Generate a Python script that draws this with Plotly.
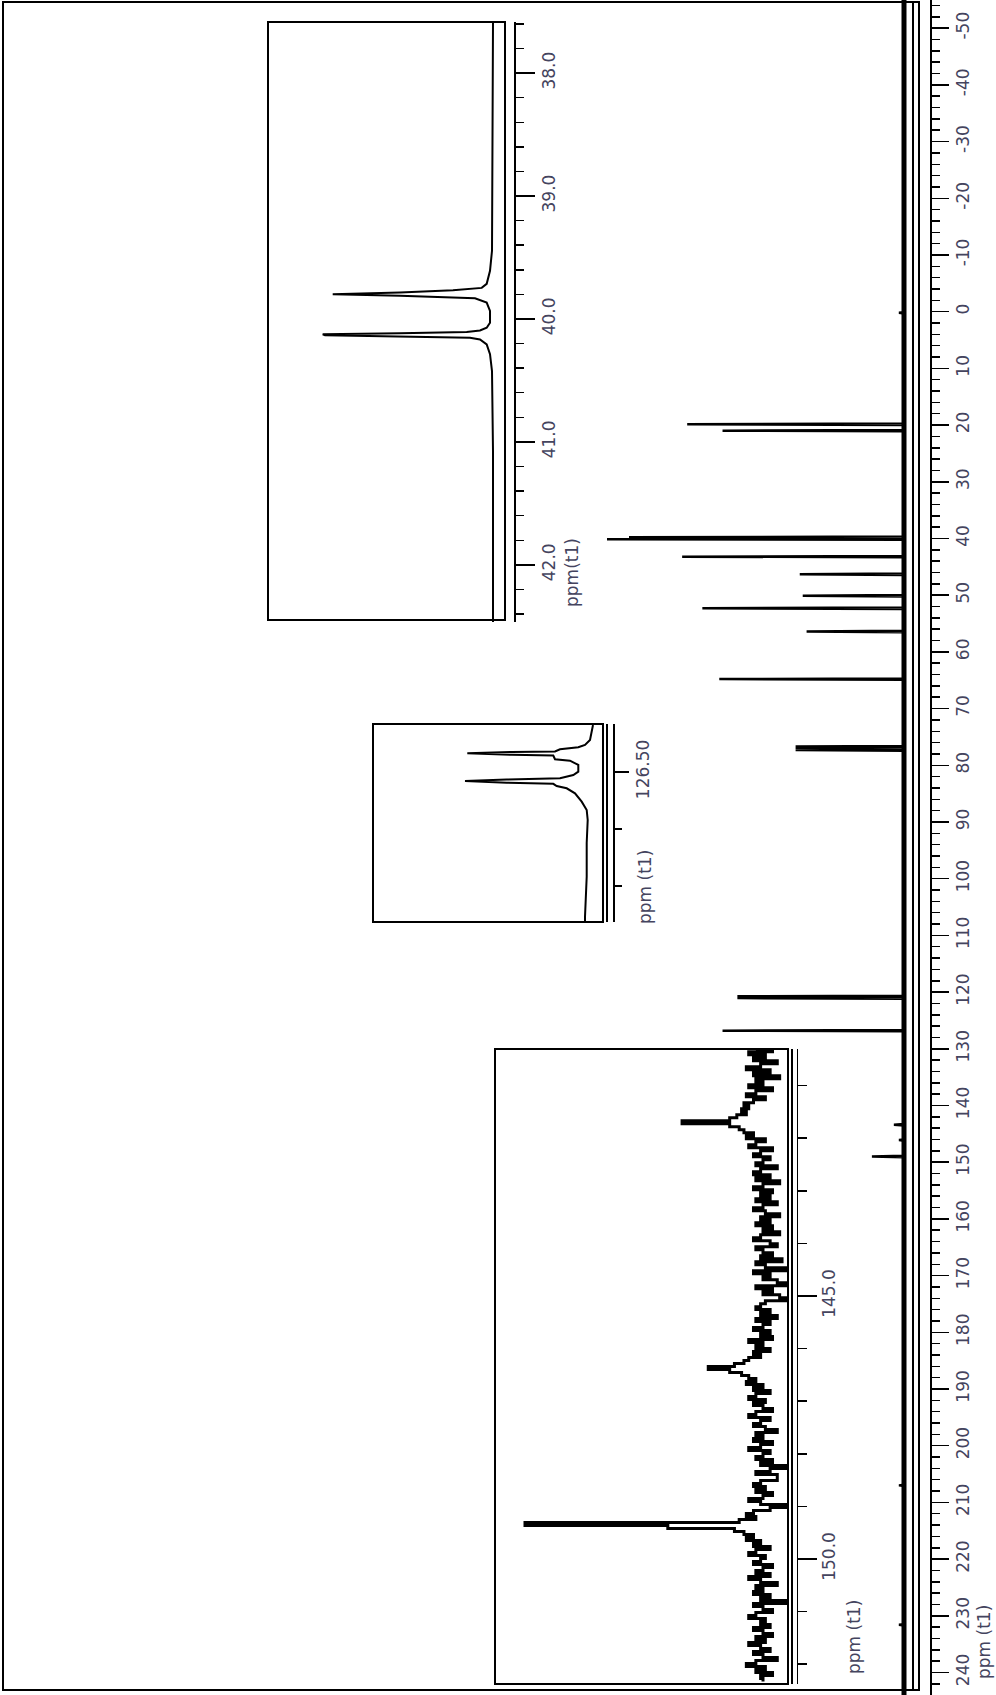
import plotly.graph_objects as go

W, H = 996, 1695


def fx(px):
    return px / W


def fy(py):
    return 1 - py / H


# ---------------- data ----------------
# main 13C spectrum: peak positions (ppm) and relative heights
main_ppm_range = [-54.97, 243.97]
main_peak_ppm = [0.2, 19.86, 20.98, 39.79, 40.12, 43.2, 46.3, 50.1, 52.3, 56.4, 64.8,
                 76.7, 77.0, 77.3, 120.75, 121.05, 126.8, 143.4, 146.1, 149.0, 207.0, 231.6]
main_peak_int = [1.7, 73.0, 61.1, 92.6, 100.0, 74.7, 35.1, 34.1, 67.9, 32.8, 62.2,
                 36.5, 36.5, 36.5, 56.1, 56.1, 61.1, 3.4, 1.7, 10.8, 1.7, 1.7]
main_tick_vals = [-50, -40, -30, -20, -10, 0, 10, 20, 30, 40, 50, 60, 70, 80, 90, 100,
                  110, 120, 130, 140, 150, 160, 170, 180, 190, 200, 210, 220, 230, 240]
main_tick_text = [str(v) for v in main_tick_vals]

# inset 1 (37.6 - 42.5 ppm)
inset1_ppm = [37.584, 39.445, 39.608, 39.714, 39.747, 39.766, 39.784, 39.793, 39.798, 39.811,
              39.823, 39.831, 39.867, 39.935, 40.030, 40.071, 40.094, 40.106, 40.117, 40.125,
              40.132, 40.140, 40.149, 40.153, 40.166, 40.207, 40.286, 40.424, 41.078, 42.465]
inset1_int = [0.0, 0.59, 1.76, 3.71, 6.65, 23.53, 54.71, 94.29, 94.29, 54.71,
              24.12, 10.59, 3.71, 1.76, 1.76, 3.71, 7.65, 15.47, 54.71, 100.18,
              98.82, 54.71, 17.65, 13.53, 7.65, 3.71, 1.76, 0.59, 0.0, 0.0]
inset1_range = [42.465, 37.584]
inset1_tick_vals = [38.0, 39.0, 40.0, 41.0, 42.0]
inset1_tick_text = ["38.0", "39.0", "40.0", "41.0", "42.0"]

# inset 2 (126.42 - 126.76 ppm)
inset2_ppm = [126.4175, 126.4321, 126.4439, 126.4526, 126.4567, 126.4602, 126.4640, 126.4649,
              126.4672, 126.4698, 126.4711, 126.4777, 126.4802, 126.4877, 126.4995, 126.5053,
              126.5111, 126.5132, 126.5158, 126.5189, 126.5207, 126.5246, 126.5286, 126.5374,
              126.5521, 126.5667, 126.5842, 126.6246, 126.6837, 126.7539, 126.7632]
inset2_int = [0.0, 1.02, 2.34, 6.25, 11.48, 25.78, 29.69, 63.52,
              98.20, 63.52, 31.02, 29.69, 17.97, 11.48, 11.48, 15.39,
              25.78, 67.42, 100.0, 67.42, 31.02, 28.36, 20.55, 14.06,
              8.83, 4.92, 4.14, 4.92, 4.92, 6.25, 6.25]
inset2_range = [126.7632, 126.4158]
inset2_tick_vals = [126.50]
inset2_tick_text = ["126.50"]

# inset 3 (140.3 - 152.4 ppm): noisy aromatic region, sampled every 0.057 ppm
inset3_start_ppm = 140.30
inset3_step_ppm = 0.057
inset3_int = [
    3, -4, 6, -1, 4, -6, 1, 7, -3, 4, -7, 3, 0, 6, -4, 3, 7, -1, 4, 8,
    6, 9, 7, 11, 14, 34, 14, 10, 8, 4, 7, -1, 3, 6, -4, 1, 4, -3, 0, 3,
    -6, 1, 4, -3, 3, -7, 0, 4, -4, 1, -3, 3, -6, 0, 4, -1, -7, 1, -3, 3,
    -4, 0, -7, 1, 4, -3, -6, 3, 0, -4, 1, -8, 3, -1, -11, 4, -3, 0, -6, -11,
    3, -4, 0, -7, -11, -1, 1, 3, -3, 1, -6, 3, -3, 0, 4, -3, 1, -4, 6, 0,
    3, -3, 4, 1, 6, 8, 12, 23, 14, 9, 6, 3, 7, 0, 4, -3, 3, 6, -1, 4,
    0, -4, 3, 6, -3, 1, 4, -1, -6, 3, 0, 4, -4, 1, 6, -3, 0, 3, -4, 1,
    -11, -3, 3, -6, -6, 1, 4, -1, 3, -4, 0, 6, 1, -11, -3, 4, 7, 3, 10, 100,
    40, 12, 8, 4, 7, 1, 4, -3, 3, 6, -1, 1, 4, -4, 0, 3, -3, 6, 1, -6,
    3, 0, 4, -3, 1, -11, 4, 0, -4, 3, 6, -1, 1, -3, 4, 0, -4, 3, -1, 6,
    1, -3, 4, 0, -6, 3, 7, -1, 3, -4, 1, 0,
]
inset3_range = [152.3764, 140.3042]
inset3_tick_vals = [145.0, 150.0]
inset3_tick_text = ["145.0", "150.0"]

# ---------------- build ----------------
LABEL_FONT = dict(family="DejaVu Sans", size=17, color="#44445e")

fig = go.Figure()

# main baseline
fig.add_trace(go.Scatter(x=[0, 0], y=main_ppm_range, mode="lines",
                         line=dict(color="black", width=5), xaxis="x", yaxis="y",
                         hoverinfo="skip", showlegend=False))
# main peaks as sticks
mx, my = [0], [main_ppm_range[0]]
for p, h in zip(main_peak_ppm, main_peak_int):
    mx += [0, h, 0]
    my += [p - 0.12, p, p + 0.12]
mx.append(0)
my.append(main_ppm_range[1])
fig.add_trace(go.Scatter(x=mx, y=my, mode="lines", line=dict(color="black", width=2.5),
                         xaxis="x", yaxis="y", hoverinfo="skip", showlegend=False))

fig.add_trace(go.Scatter(x=inset1_int, y=inset1_ppm, mode="lines",
                         line=dict(color="black", width=2), xaxis="x2", yaxis="y2",
                         hoverinfo="skip", showlegend=False))
fig.add_trace(go.Scatter(x=inset2_int, y=inset2_ppm, mode="lines",
                         line=dict(color="black", width=2), xaxis="x3", yaxis="y3",
                         hoverinfo="skip", showlegend=False))
inset3_ppm = [inset3_start_ppm + i * inset3_step_ppm for i in range(len(inset3_int))]
fig.add_trace(go.Scatter(x=inset3_int, y=inset3_ppm, mode="lines",
                         line=dict(color="black", width=3, shape="hv"), xaxis="x4", yaxis="y4",
                         hoverinfo="skip", showlegend=False))


def xax(x0, x1, rng, anchor):
    return dict(domain=[fx(x0), fx(x1)], range=rng, visible=False, anchor=anchor,
                showgrid=False, zeroline=False, fixedrange=True, automargin=False)


def yax(y0, y1, rng, spine, vals, texts, ticklen, minor_dtick, minor_len, standoff):
    return dict(domain=[fy(y1), fy(y0)], range=rng, anchor="free", position=fx(spine),
                side="right", showline=True, linecolor="black", linewidth=1.5,
                ticks="outside", ticklen=ticklen, tickwidth=1.5, tickcolor="black",
                tickmode="array", tickvals=vals, ticktext=texts, tickangle=-90,
                ticklabelstandoff=standoff, automargin=False,
                tickfont=LABEL_FONT, showgrid=False, zeroline=False, fixedrange=True,
                minor=dict(ticks="outside", dtick=minor_dtick, tick0=0, ticklen=minor_len,
                           tickwidth=1.5, tickcolor="black", showgrid=False))


layout = dict(
    width=W, height=H, margin=dict(l=0, r=0, t=0, b=0, pad=0, autoexpand=False),
    paper_bgcolor="white", plot_bgcolor="rgba(0,0,0,0)", showlegend=False,
    xaxis=xax(0, W, [904 / 2.97, (904 - W) / 2.97], "y"),
    yaxis=yax(0, H, [main_ppm_range[1], main_ppm_range[0]], 930, main_tick_vals,
              main_tick_text, 17, 2, 8, 0),
    xaxis2=xax(268, 505, [(493 - 268) / 1.7, (493 - 505) / 1.7], "y2"),
    yaxis2=yax(22, 622, inset1_range, 514, inset1_tick_vals, inset1_tick_text, 19, 0.2, 8, 0),
    xaxis3=xax(373, 603, [(593 - 373) / 1.28, (593 - 603) / 1.28], "y3"),
    yaxis3=yax(724, 922, inset2_range, 613, inset2_tick_vals, inset2_tick_text, 14, 0.1, 7, 0),
    xaxis4=xax(495, 788, [(763 - 495) / 2.38, (763 - 788) / 2.38], "y4"),
    yaxis4=yax(1049, 1684, inset3_range, 796.5, inset3_tick_vals, inset3_tick_text, 19, 1, 9, -2),
)
fig.update_layout(**layout)


def rect(x0, y0, x1, y1):
    return dict(type="rect", xref="paper", yref="paper", x0=fx(x0), x1=fx(x1),
                y0=fy(y1), y1=fy(y0), line=dict(color="black", width=2), fillcolor="rgba(0,0,0,0)")


def vline(x, y0, y1):
    return dict(type="line", xref="paper", yref="paper", x0=fx(x), x1=fx(x),
                y0=fy(y1), y1=fy(y0), line=dict(color="black", width=2))


shapes = [
    rect(3, 2, 919, 1690), vline(913, 2, 1690),
    rect(268, 22, 505, 620),
    rect(373, 724, 603, 922), vline(607, 724, 922),
    rect(495, 1049, 788, 1684), vline(792, 1049, 1684),
]
fig.update_layout(shapes=shapes)


def label(text, x, y):
    return dict(text=text, x=fx(x), y=fy(y), xref="paper", yref="paper", showarrow=False,
                textangle=-90, xanchor="center", yanchor="middle", font=LABEL_FONT)


fig.update_layout(annotations=[
    label("ppm (t1)", 984, 1642),
    label("ppm(t1)", 572, 573),
    label("ppm (t1)", 645, 887),
    label("ppm (t1)", 854, 1637),
])

# remove the browser's default page margin so the figure sits at the window's corner
fig.write_html("out.html", config={"staticPlot": True},
               post_script="document.body.style.margin='0';document.body.style.overflow='hidden';")
